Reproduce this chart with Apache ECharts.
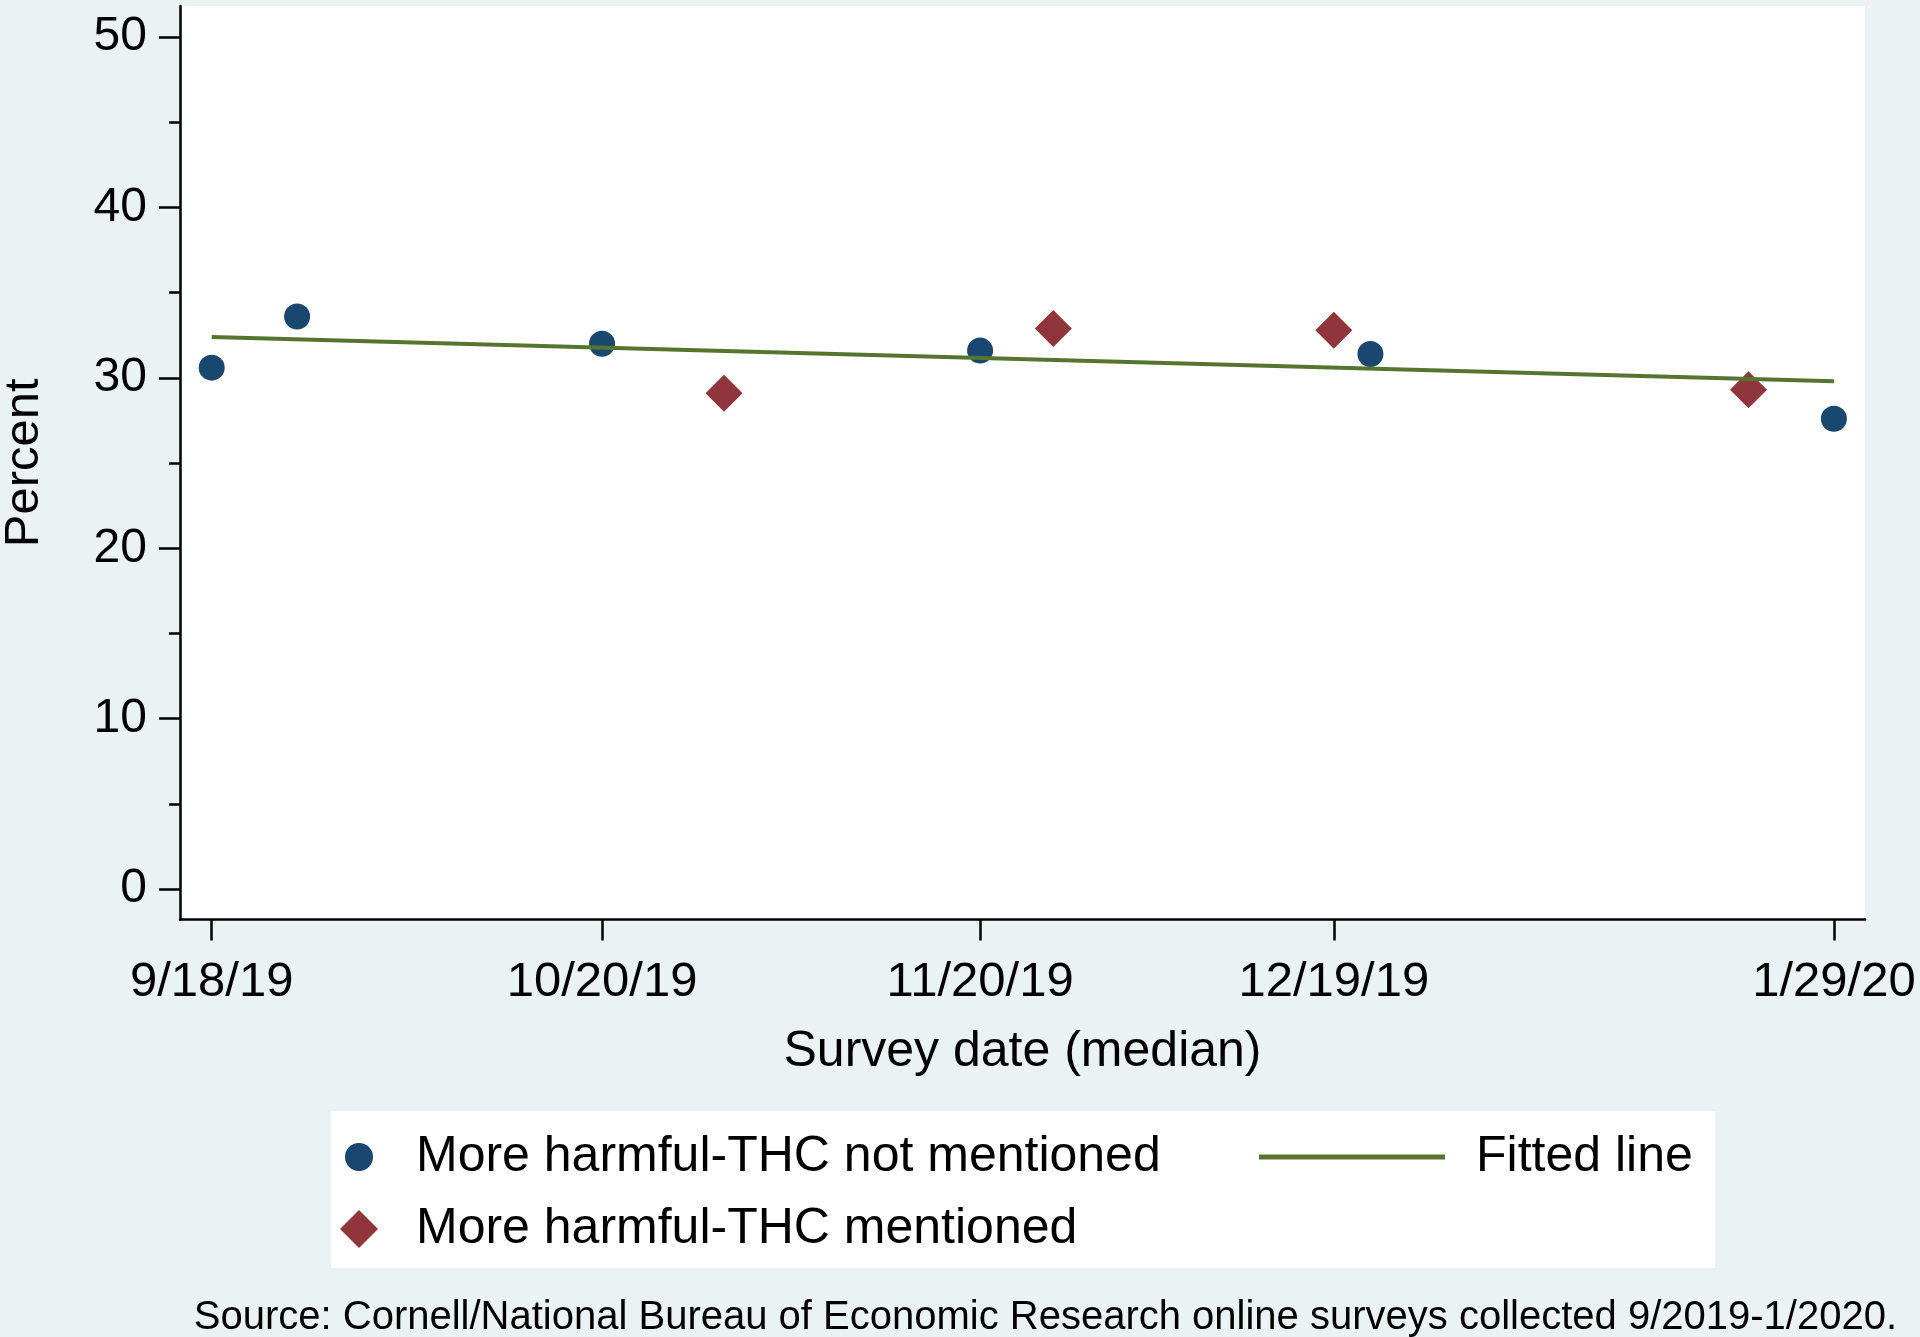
<!DOCTYPE html>
<html>
<head>
<meta charset="utf-8">
<script src="https://cdn.jsdelivr.net/npm/echarts@6/dist/echarts.min.js"></script>
<style>
html,body{margin:0;padding:0;background:#eaf2f3;}
#chart{width:1920px;height:1337px;}
</style>
</head>
<body>
<div id="chart"></div>
<script>
// ---- data ----
const notMentionedDates = ['2019-09-18','2019-09-25','2019-10-20','2019-11-20','2019-12-22','2020-01-29'];
const notMentionedValues = [30.6, 33.6, 32.0, 31.6, 31.4, 27.6];
const mentionedDates = ['2019-10-30','2019-11-26','2019-12-19','2020-01-22'];
const mentionedValues = [29.1, 32.9, 32.8, 29.3];
const fittedDates = ['2019-09-18','2020-01-29'];
const fittedValues = [32.4, 29.8];
const xTickDates = ['2019-09-18','2019-10-20','2019-11-20','2019-12-19','2020-01-29'];
const yTicks = [0, 10, 20, 30, 40, 50];
const yMinorTicks = [5, 15, 25, 35, 45];

const seriesNames = ['More harmful-THC not mentioned', 'More harmful-THC mentioned', 'Fitted line'];
const xTitle = 'Survey date (median)';
const yTitle = 'Percent';
const sourceNote = 'Source: Cornell/National Bureau of Economic Research online surveys collected 9/2019-1/2020.';

// ---- helpers ----
const DAY = 86400000;
function ts(s){ const p = s.split('-').map(Number); return Date.UTC(p[0], p[1]-1, p[2]); }
function fmt(v){ const d = new Date(v); return (d.getUTCMonth()+1) + '/' + d.getUTCDate() + '/' + String(d.getUTCFullYear()).slice(2); }
function pairs(dates, vals){ return dates.map((d,i)=>[ts(d), vals[i]]); }

const FONT = 'Liberation Sans, Arial, sans-serif';
const xMin = ts(xTickDates[0]) - 2.6*DAY;
const xMax = ts(xTickDates[xTickDates.length-1]) + 2.55*DAY;
const xTickVals = xTickDates.map(ts);

const chart = echarts.init(document.getElementById('chart'), null, {renderer:'canvas'});
chart.setOption({
  backgroundColor: '#eaf2f3',
  animation: false,
  textStyle: {fontFamily: FONT},
  title: {
    text: sourceNote,
    right: 23, top: 1298,
    padding: 0,
    textStyle: {fontFamily: FONT, fontWeight: 'normal', fontSize: 40, color: '#000', lineHeight: 40}
  },
  grid: {
    left: 180, top: 6, width: 1685, height: 913.5,
    outerBoundsMode: 'none', containLabel: false,
    show: true, backgroundColor: '#ffffff', borderWidth: 0
  },
  graphic: [{
    type: 'rect', z: 0, silent: true,
    shape: {x: 331, y: 1111, width: 1384, height: 157},
    style: {fill: '#ffffff'}
  }],
  legend: [
    {
      data: [seriesNames[0]], left: 345, top: 1132, padding: 0,
      itemWidth: 28, itemHeight: 28, z: 5,
      textStyle: {fontFamily: FONT, fontSize: 50, lineHeight: 50, color: '#000', padding: [0,0,0,38]}
    },
    {
      data: [seriesNames[1]], left: 340, top: 1204, padding: 0,
      itemWidth: 38, itemHeight: 38, z: 5,
      textStyle: {fontFamily: FONT, fontSize: 50, lineHeight: 50, color: '#000', padding: [0,0,0,33]}
    },
    {
      data: [seriesNames[2]], left: 1259, top: 1132, padding: 0,
      itemWidth: 186, itemHeight: 5, icon: 'rect', z: 5,
      textStyle: {fontFamily: FONT, fontSize: 50, lineHeight: 50, color: '#000', padding: [0,0,0,26]}
    }
  ],
  xAxis: {
    type: 'value', min: xMin, max: xMax,
    name: xTitle, nameLocation: 'middle', nameGap: 108,
    nameTextStyle: {fontFamily: FONT, fontSize: 50, color: '#000', lineHeight: 50},
    axisLine: {show: true, onZero: false, lineStyle: {color: '#000', width: 2.5}},
    axisTick: {show: true, customValues: xTickVals, length: 21, lineStyle: {color: '#000', width: 2.5}},
    axisLabel: {show: true, customValues: xTickVals, formatter: v => fmt(v), margin: 38,
      fontFamily: FONT, fontSize: 49, color: '#000'},
    splitLine: {show: false}
  },
  yAxis: [
    {
      type: 'value', min: -1.78, max: 51.82, position: 'left',
      name: yTitle, nameLocation: 'middle', nameGap: 131, nameRotate: 90,
      nameTextStyle: {fontFamily: FONT, fontSize: 49, color: '#000', lineHeight: 49},
      axisLine: {show: true, onZero: false, lineStyle: {color: '#000', width: 2.5}},
      axisTick: {show: true, customValues: yTicks, length: 21, lineStyle: {color: '#000', width: 2.5}},
      axisLabel: {show: true, customValues: yTicks, margin: 33, padding: [5, 0, 0, 0],
        fontFamily: FONT, fontSize: 48, color: '#000'},
      splitLine: {show: false}
    },
    {
      type: 'value', min: -1.78, max: 51.82, position: 'left', offset: 0,
      axisLine: {show: false},
      axisTick: {show: true, customValues: yMinorTicks, length: 11, lineStyle: {color: '#000', width: 2.5}},
      axisLabel: {show: false},
      splitLine: {show: false}
    }
  ],
  series: [
    {
      name: seriesNames[0], type: 'scatter', symbol: 'circle', symbolSize: 26,
      itemStyle: {color: '#1a476f', opacity: 1}, z: 2,
      data: pairs(notMentionedDates, notMentionedValues)
    },
    {
      name: seriesNames[1], type: 'scatter', symbol: 'diamond', symbolSize: 37,
      itemStyle: {color: '#90353b', opacity: 1}, z: 2,
      data: pairs(mentionedDates, mentionedValues)
    },
    {
      name: seriesNames[2], type: 'line', symbol: 'none', showSymbol: false,
      lineStyle: {color: '#55752f', width: 4}, itemStyle: {color: '#55752f'}, z: 3,
      data: pairs(fittedDates, fittedValues)
    }
  ]
});
</script>
</body>
</html>
